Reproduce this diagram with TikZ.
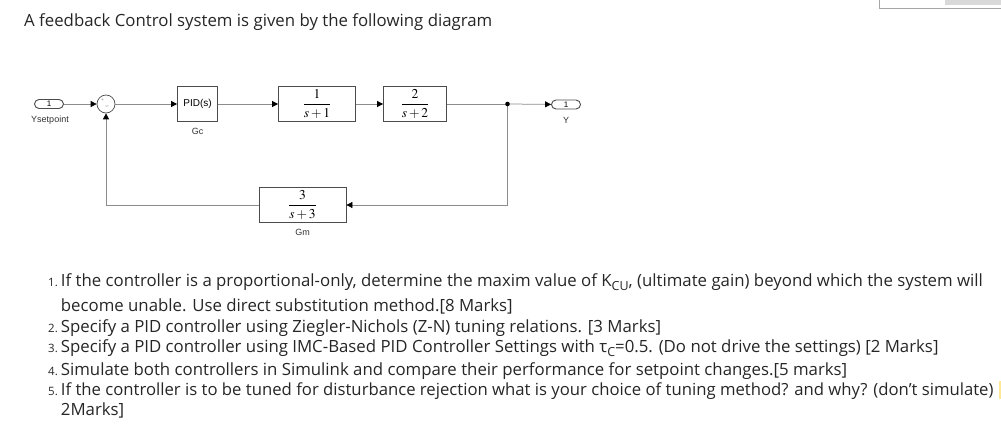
\documentclass[tikz,border=0pt]{standalone}
\usepackage{mathptmx}
\usepackage{fontspec}
\setmainfont{Open Sans}
\newfontfamily\simfont{Liberation Sans}
\usetikzlibrary{positioning, calc, arrows.meta}

\begin{document}
\begin{tikzpicture}[x=1pt, y=-1pt,
    >={Triangle[length=6pt, width=6pt, color=black]},
    blk/.style={draw=black!70, line width=0.8pt, fill=white, inner sep=0pt,
        font=\fontsize{13.5}{15}\selectfont},
    sig/.style={draw=black!45, line width=0.75pt},
    port/.style={draw=black!70, line width=0.9pt, rounded corners=4.5pt,
        minimum width=29pt, minimum height=9pt, inner sep=0pt,
        font=\simfont\fontsize{8}{9}\selectfont},
    lbl/.style={font=\simfont\fontsize{9}{10}\selectfont, text=black!80, inner sep=0pt},
    txt/.style={anchor=base west, inner sep=0pt, text=black!85,
        font=\fontsize{16.8}{20}\selectfont},
    num/.style={anchor=base west, inner sep=0pt, text=black!85,
        font=\fontsize{11.5}{13}\selectfont}]

    \useasboundingbox (0,0) rectangle (1001,428);

    % window corner (top right)
    \fill[black!15] (945,0) rectangle (1001,4.7);
    \draw[black!35, line width=0.8pt] (879.5,0) -- (879.5,8) -- (1001,8);

    % heading
    \node[txt] (title) at (24,26.7) {A feedback Control system is given by the following diagram};

    % ================= blocks =================
    \node[port] (ysp) at (49,104) {1};
    \node[lbl] (ysplbl) at (50,120) {Ysetpoint};

    \node[circle, draw=black!70, line width=0.7pt, minimum size=18pt, inner sep=0pt] (sum) at (106,104) {};
    \node[font=\simfont\fontsize{5}{5}\selectfont, text=black!50, inner sep=0pt] (sumplus) at (102.5,100.5) {+};
    \node[font=\simfont\fontsize{6}{6}\selectfont, text=black!60, inner sep=0pt] (summinus) at (107,106) {\_};

    \node[blk, minimum width=40pt, minimum height=35pt, font=\simfont\fontsize{10}{11}\selectfont] (gc) at (197.5,104) {PID(s)};
    \node[lbl] (gclbl) at (197.5,131) {Gc};

    \node[blk, minimum width=77pt, minimum height=35pt] (g1) at (317,104) {$\displaystyle\frac{1}{s+1}$};
    \node[blk, minimum width=63pt, minimum height=35pt] (g2) at (415,104) {$\displaystyle\frac{2}{s+2}$};

    \coordinate (br) at (507.5,104);

    \node[port] (yout) at (566,104.5) {1};
    \node[lbl] (ylbl) at (566,120) {Y};

    \node[blk, minimum width=87pt, minimum height=35pt] (gm) at (302.5,205) {$\displaystyle\frac{3}{s+3}$};
    \node[lbl] (gmlbl) at (302.5,232) {Gm};

    % ================= signals =================
    \draw[sig, ->] (ysp) -- (sum);
    \draw[sig, ->] (sum) -- (gc);
    \draw[sig, ->] (gc) -- (g1);
    \draw[sig, ->] (g1) -- (g2);
    \draw[sig] (g2) -- (br);
    \draw[sig, ->] (br) -- (yout);
    \draw[sig, ->] (br) |- (gm);
    \draw[sig, ->] (gm) -| (sum);
    \fill (br) circle (2.3pt);

    % ================= questions =================
    \node[num] (n1) at (48,286.7) {1.};
    \node[txt] (q1a) at (60.7,286.7) {If the controller is a proportional-only, determine the maxim value of K\raisebox{-4pt}{\fontsize{12.5}{12}\selectfont CU}, (ultimate gain) beyond which the system will};
    \node[txt] (q1b) at (60.7,311.7) {become unable. Use direct substitution method.[8 Marks]};
    \node[num] (n2) at (48,332.7) {2.};
    \node[txt] (q2) at (60.7,332.7) {Specify a PID controller using Ziegler-Nichols (Z-N) tuning relations. [3 Marks]};
    \node[num] (n3) at (48,352.7) {3.};
    \node[txt] (q3) at (60.7,352.7) {Specify a PID controller using IMC-Based PID Controller Settings with τ\raisebox{-4pt}{\fontsize{12.5}{12}\selectfont C}=0.5. (Do not drive the settings) [2 Marks]};
    \node[num] (n4) at (48,375) {4.};
    \node[txt] (q4) at (60.7,375) {Simulate both controllers in Simulink and compare their performance for setpoint changes.[5 marks]};
    \node[num] (n5) at (48,395) {5.};
    \node[txt, font=\fontsize{16.7}{20}\selectfont] (q5a) at (60.7,395) {If the controller is to be tuned for disturbance rejection what is your choice of tuning method? and why? (don’t simulate)};
    \node[txt] (q5b) at (60.7,415) {2Marks]};
    \fill[yellow!60!orange!40] (999.3,381) rectangle (1001,399);

\end{tikzpicture}
\end{document}
